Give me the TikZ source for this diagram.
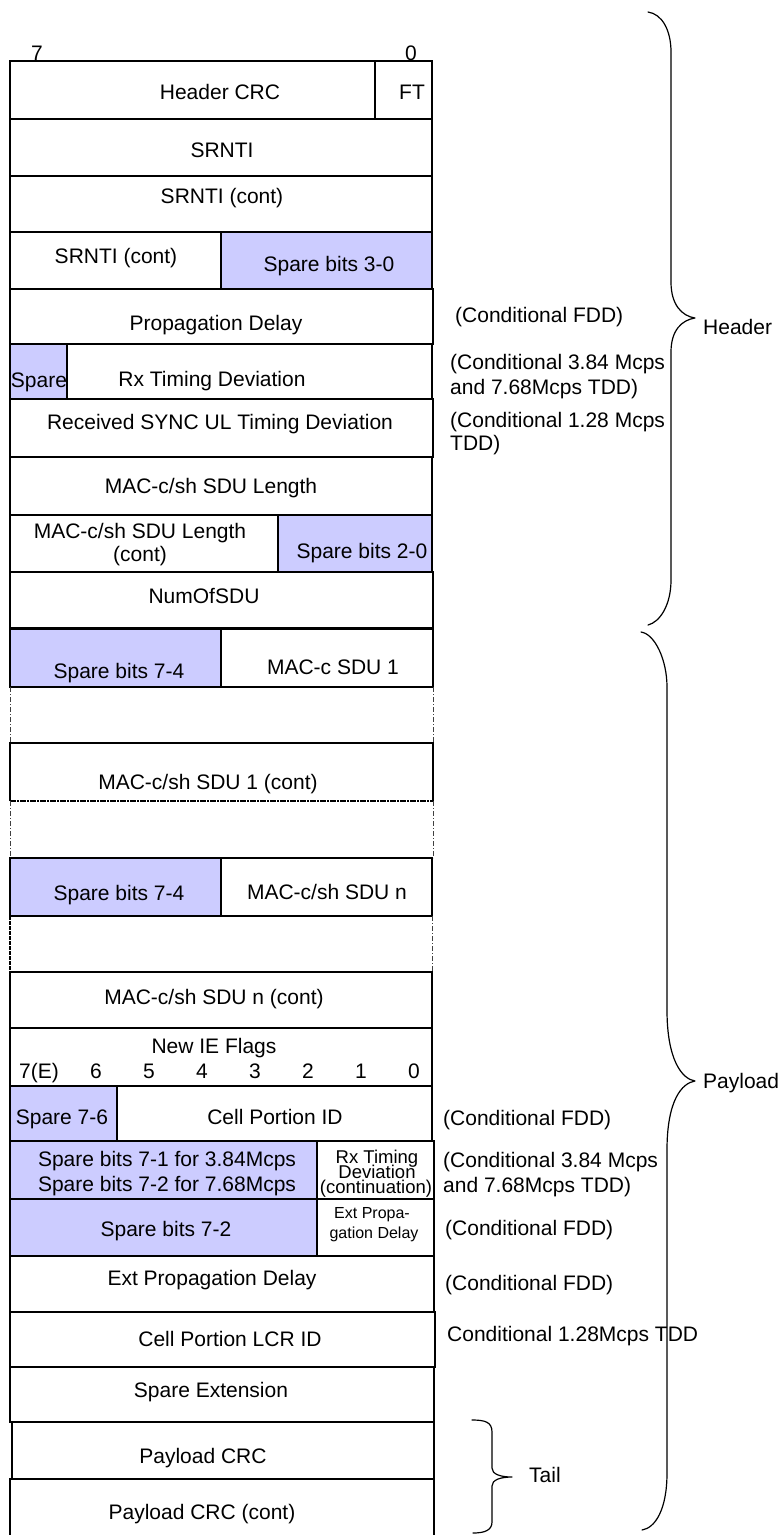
\documentclass[tikz,border=0pt]{standalone}
\usepackage{fontspec}
\setmainfont{Liberation Sans}
\definecolor{sparefill}{RGB}{204,204,255}
\tikzset{
  box/.style={draw=black, line width=1.2pt},
  sparebox/.style={box, fill=sparefill},
  gapline/.style={line width=0.7pt, black!75, dash pattern=on 5pt off 2pt on 1pt off 2pt},
  lbl/.style={inner sep=0pt, anchor=base, font=\fontsize{21}{25}\selectfont},
  smalllbl/.style={inner sep=0pt, anchor=base, font=\fontsize{18.5}{15}\selectfont},
  tinylbl/.style={inner sep=0pt, anchor=base, font=\fontsize{16}{20}\selectfont},
  sidelbl/.style={lbl, anchor=base west},
  bracepath/.style={line width=1.2pt, line join=round, line cap=round}
}
\begin{document}
\begin{tikzpicture}[x=1pt,y=-1pt]
\useasboundingbox (0,0) rectangle (782,1535);

% ---------- fills ----------
\fill[sparefill] (221,232) rectangle (432,289);
\fill[sparefill] (10,344) rectangle (67,399);
\fill[sparefill] (278,515) rectangle (432,572);
\fill[sparefill] (10,629) rectangle (221,687);
\fill[sparefill] (10,858) rectangle (221,916);
\fill[sparefill] (10,1086) rectangle (117,1141);
\fill[sparefill] (10,1141) rectangle (317,1199);
\fill[sparefill] (10,1199) rectangle (317,1256);

% ---------- header rows ----------
\draw[box] (10,61) rectangle (432,119);
\draw[box] (375,61) -- (375,119);
\draw[box] (10,119) rectangle (432,176);
\draw[box] (10,176) rectangle (432,232);
\draw[box] (10,232) rectangle (432,289);
\draw[box] (221,232) -- (221,289);
\draw[box] (10,289) rectangle (433,344);
\draw[box] (10,344) rectangle (432,399);
\draw[box] (67,344) -- (67,399);
\draw[box] (10,399) rectangle (433,457);
\draw[box] (10,457) rectangle (432,515);
\draw[box] (10,515) rectangle (432,572);
\draw[box] (278,515) -- (278,572);
\draw[box] (10,572) rectangle (433,628);

% ---------- payload rows ----------
\draw[box] (10,629) rectangle (433,687);
\draw[box] (221,629) -- (221,687);
\draw[gapline] (10,687) -- (10,743);
\draw[gapline] (433,687) -- (433,743);
\draw[box] (10,801) -- (10,743) -- (433,743) -- (433,801);
\draw[line width=1.2pt, dash pattern=on 6pt off 1pt on 2pt off 1pt] (10,801) -- (433,801);
\draw[gapline] (10,801) -- (10,858);
\draw[gapline] (433,801) -- (433,858);
\draw[box] (10,858) rectangle (432,916);
\draw[box] (221,858) -- (221,916);
\draw[line width=1.4pt, dash pattern=on 4pt off 1pt] (10,916) -- (10,972);
\draw[gapline] (432,916) -- (432,972);
\draw[box] (10,972) rectangle (432,1028);
\draw[box] (10,1028) rectangle (432,1086);
\draw[box] (10,1086) rectangle (432,1141);
\draw[box] (117,1086) -- (117,1141);
\draw[box] (10,1141) rectangle (434,1199);
\draw[box] (317,1141) -- (317,1199);
\draw[box] (10,1199) rectangle (434,1256);
\draw[box] (317,1199) -- (317,1256);
\draw[box] (10,1256) rectangle (434,1312);
\draw[box] (10,1312) rectangle (435,1367);
\draw[box] (10,1367) rectangle (434,1422);
\draw[box] (12,1422) rectangle (434,1479);
\draw[box] (10,1479) rectangle (434,1536);

% ---------- cell texts ----------
\node[lbl] (b7) at (37,60) {7};
\node[lbl] (b0) at (411,60) {0};
\node[lbl] (hcrc) at (220,99.5) {Header CRC};
\node[lbl] (ft) at (412,99.5) {FT};
\node[lbl] (srnti) at (222,157.5) {SRNTI};
\node[lbl] (srnti2) at (222,203.5) {SRNTI (cont)};
\node[lbl] (srnti3) at (116,263.5) {SRNTI (cont)};
\node[lbl] (sp30) at (329,271.5) {Spare bits 3-0};
\node[lbl] (pd) at (216,330) {Propagation Delay};
\node[lbl] (sp) at (39,387) {Spare};
\node[lbl] (rxtd) at (212,386) {Rx Timing Deviation};
\node[lbl] (rsync) at (220,429) {Received SYNC UL Timing Deviation};
\node[lbl] (len) at (211,493) {MAC-c/sh SDU Length};
\node[lbl] (lenc1) at (140,538) {MAC-c/sh SDU Length};
\node[lbl] (lenc2) at (140,561) {(cont)};
\node[lbl] (sp20) at (362,558) {Spare bits 2-0};
\node[lbl] (num) at (204,603) {NumOfSDU};
\node[lbl] (sp74a) at (119,678) {Spare bits 7-4};
\node[lbl] (sdu1) at (333,674) {MAC-c SDU 1};
\node[lbl] (sdu1c) at (208,789) {MAC-c/sh SDU 1 (cont)};
\node[lbl] (sp74b) at (119,900) {Spare bits 7-4};
\node[lbl] (sdun) at (327,899) {MAC-c/sh SDU n};
\node[lbl] (sdunc) at (214,1004) {MAC-c/sh SDU n (cont)};
\node[lbl] (ief) at (214,1053) {New IE Flags};
\node[lbl] (f7) at (39,1078) {7(E)};
\node[lbl] (f6) at (96,1078) {6};
\node[lbl] (f5) at (149,1078) {5};
\node[lbl] (f4) at (202,1078) {4};
\node[lbl] (f3) at (255,1078) {3};
\node[lbl] (f2) at (308,1078) {2};
\node[lbl] (f1) at (361,1078) {1};
\node[lbl] (f0) at (414,1078) {0};
\node[lbl] (sp76) at (62,1124) {Spare 7-6};
\node[lbl] (cpid) at (275,1124) {Cell Portion ID};
\node[lbl] (sp71a) at (167,1166) {Spare bits 7-1 for 3.84Mcps};
\node[lbl] (sp71b) at (167,1191) {Spare bits 7-2 for 7.68Mcps};
\node[smalllbl] (rxc1) at (377,1163.5) {Rx Timing};
\node[smalllbl] (rxc2) at (377,1178.5) {Deviation};
\node[smalllbl] (rxc3) at (376,1193.5) {(continuation)};
\node[lbl] (sp72) at (166,1236) {Spare bits 7-2};
\node[tinylbl] (epd1) at (372,1218) {Ext Propa-};
\node[tinylbl] (epd2) at (374,1238) {gation Delay};
\node[lbl] (epd) at (212,1285) {Ext Propagation Delay};
\node[lbl] (cplcr) at (230,1346) {Cell Portion LCR ID};
\node[lbl] (spext) at (211,1397) {Spare Extension};
\node[lbl] (pcrc) at (203,1463) {Payload CRC};
\node[lbl] (pcrcc) at (202,1519) {Payload CRC (cont)};

% ---------- side notes ----------
\node[sidelbl] (n1) at (455,322) {(Conditional FDD)};
\node[sidelbl] (n2a) at (450,369) {(Conditional 3.84 Mcps};
\node[sidelbl] (n2b) at (450,394) {and 7.68Mcps TDD)};
\node[sidelbl] (n3a) at (450,427) {(Conditional 1.28 Mcps};
\node[sidelbl] (n3b) at (450,450) {TDD)};
\node[sidelbl] (n4) at (443,1125) {(Conditional FDD)};
\node[sidelbl] (n5a) at (443,1167) {(Conditional 3.84 Mcps};
\node[sidelbl] (n5b) at (443,1192) {and 7.68Mcps TDD)};
\node[sidelbl] (n6) at (445,1235) {(Conditional FDD)};
\node[sidelbl] (n7) at (445,1290) {(Conditional FDD)};
\node[sidelbl] (n8) at (447,1341) {Conditional 1.28Mcps TDD};

% ---------- braces ----------
\draw[bracepath] (648,12) .. controls (662,14) and (671,30) .. (671,52)
  -- (671,282) .. controls (671,305) and (682,316) .. (695,318)
  .. controls (682,320) and (671,330) .. (671,352)
  -- (671,580) .. controls (671,605) and (660,622) .. (648,625);
\node[sidelbl] (hdr) at (703,334) {Header};

\draw[bracepath] (641,632) .. controls (655,634) and (667,660) .. (667,687)
  -- (667,1010) .. controls (667,1060) and (682,1079) .. (695,1081)
  .. controls (682,1083) and (667,1100) .. (667,1150)
  -- (667,1473) .. controls (667,1510) and (655,1528) .. (642,1530);
\node[sidelbl] (pl) at (703,1088) {Payload};

\draw[bracepath] (472,1420) .. controls (485,1420) and (492,1422) .. (492,1432)
  -- (492,1468) .. controls (492,1474) and (500,1477) .. (512,1477)
  .. controls (500,1477) and (492,1480) .. (492,1486)
  -- (492,1522) .. controls (492,1530) and (485,1533) .. (473,1533);
\node[sidelbl] (tl) at (529,1482) {Tail};
\end{tikzpicture}
\end{document}
